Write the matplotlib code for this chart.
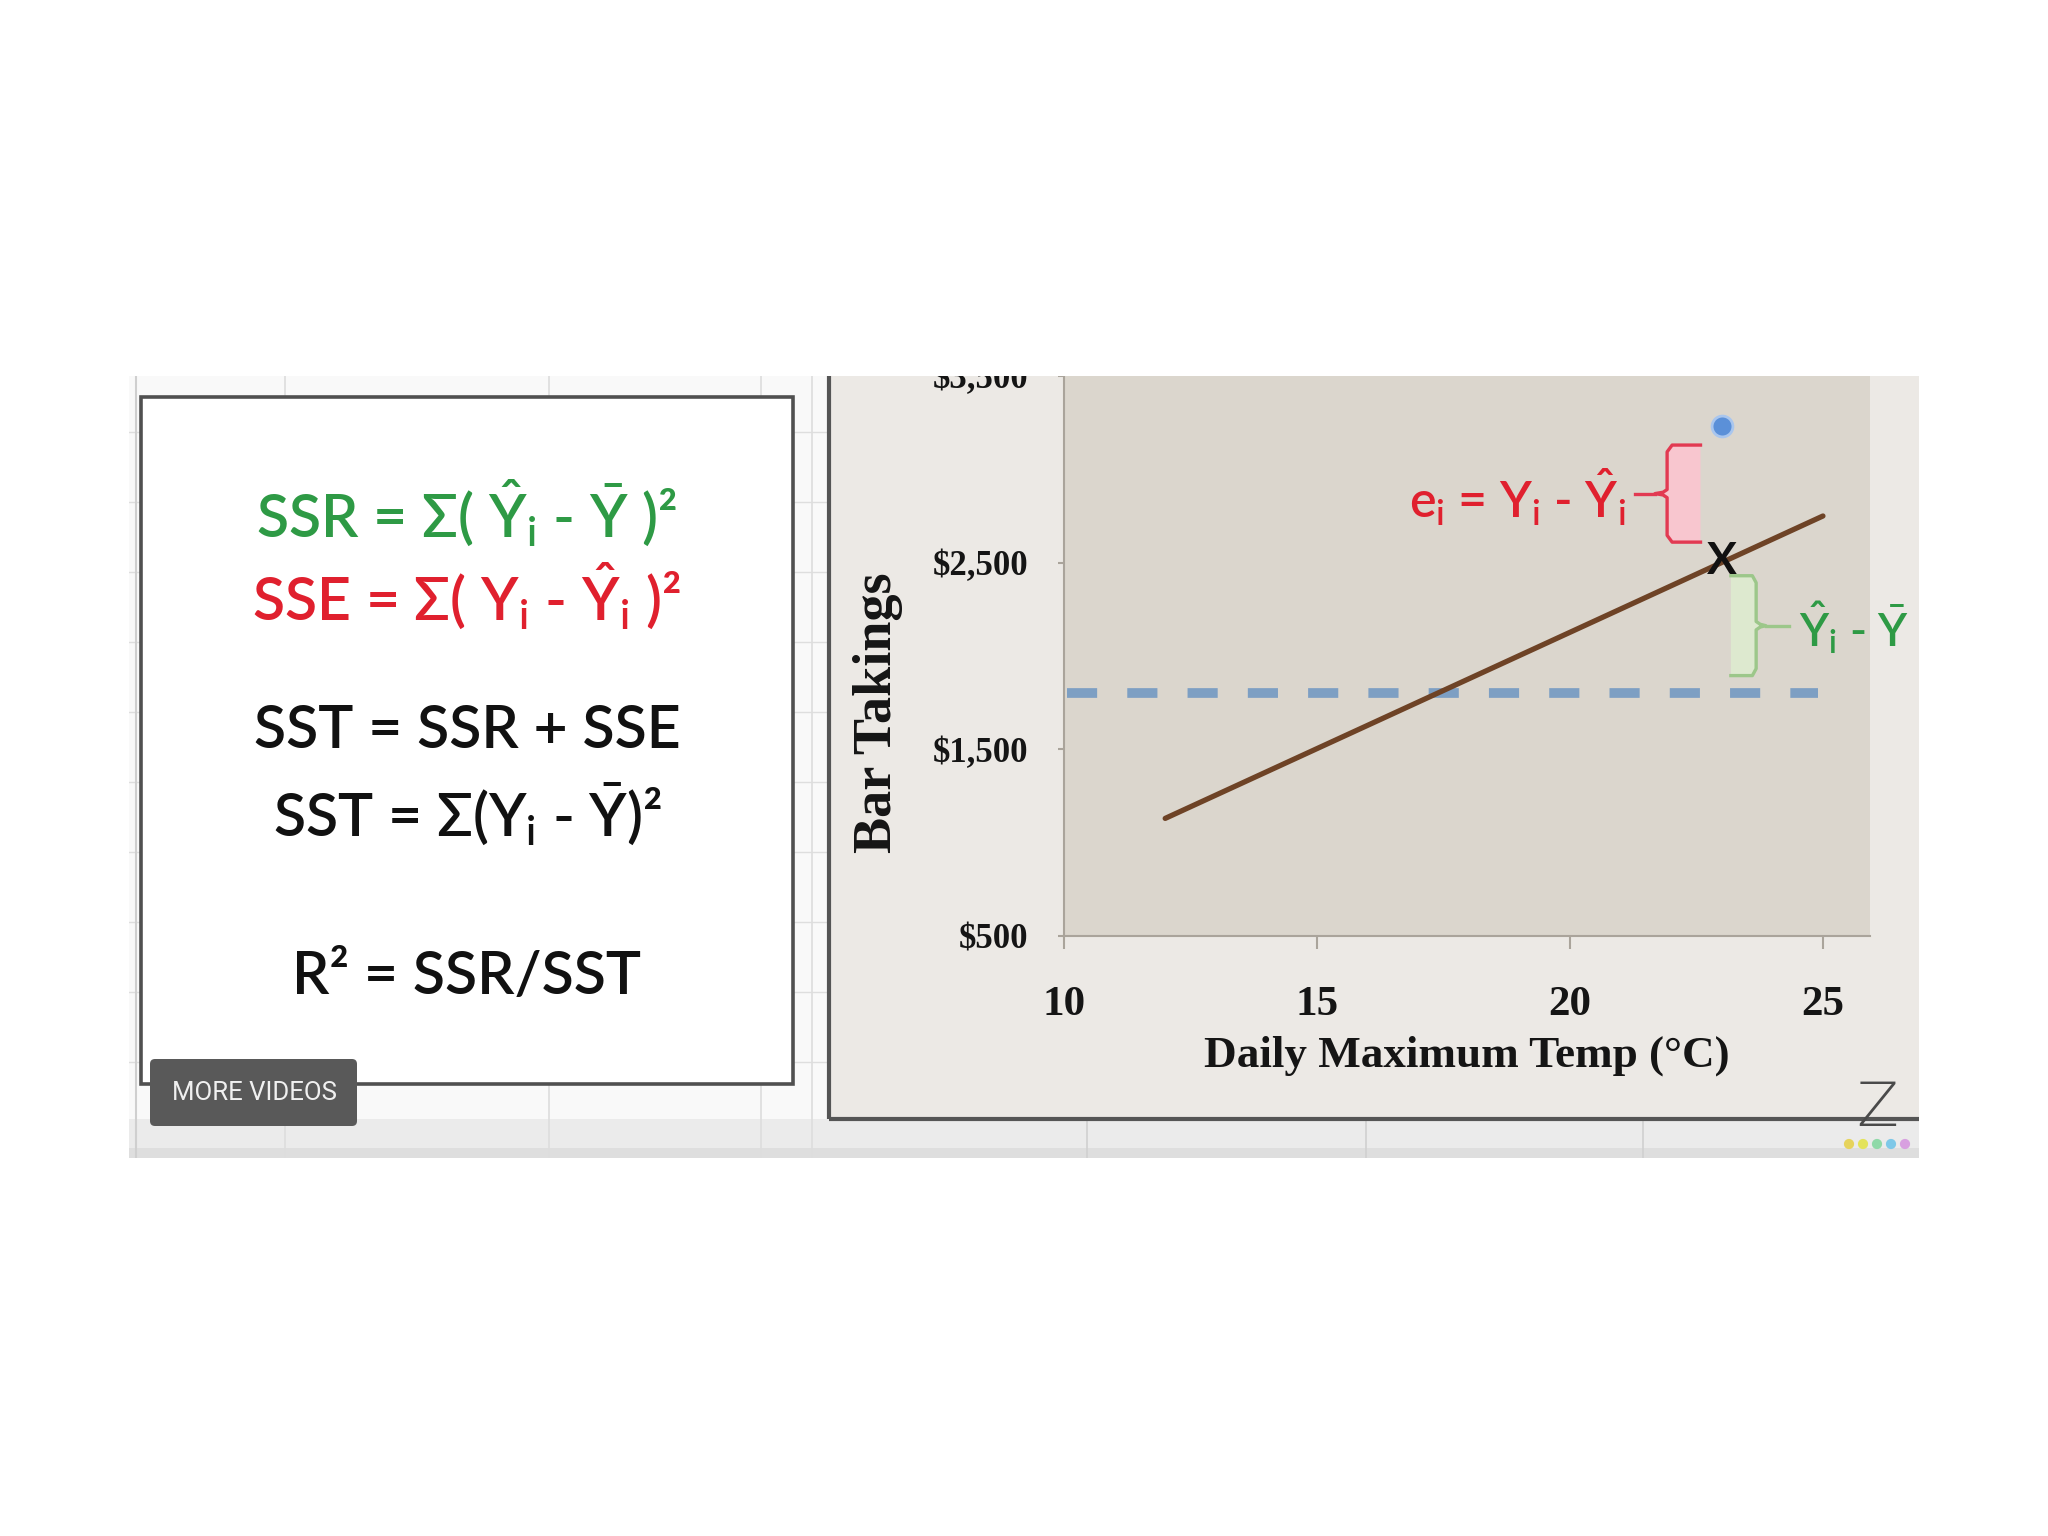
import numpy as np
import matplotlib
matplotlib.use("Agg")
import matplotlib.pyplot as plt
from matplotlib.patches import Rectangle, FancyBboxPatch

plt.rcParams['mathtext.fontset'] = 'custom'
plt.rcParams['mathtext.rm'] = 'Lato:semibold'
plt.rcParams['mathtext.it'] = 'Lato:semibold'
plt.rcParams['mathtext.bf'] = 'Lato:bold'

# data
temp_line = [12, 25]
takings_line = [1130, 2750]
mean_takings = 1800
mean_temp_range = [10.05, 24.9]
obs_temp = 23
obs_takings = 3230
fitted_takings = 2510

x_ticks = [10, 15, 20, 25]
y_ticks = [500, 1500, 2500, 3500]
y_tick_labels = ['$500', '$1,500', '$2,500', '$3,500']

formulas = [
    (r'SSR = Σ( $\hat{Y}_i$ - $\bar{Y}$ )²', '#2e9a45'),
    (r'SSE = Σ( $Y_i$ - $\hat{Y}_i$ )²', '#e0202e'),
    (r'SST = SSR + SSE', '#111111'),
    (r'SST = Σ($Y_i$ - $\bar{Y}$)²', '#111111'),
    (r'R² = SSR/SST', '#111111'),
]
formula_y = [513, 596, 731, 814, 977]

W, H = 2048, 1536
fig = plt.figure(figsize=(W / 100, H / 100), dpi=100)
fig.patch.set_facecolor('white')

# screenshot background, pixel coordinates
bg = fig.add_axes([0, 0, 1, 1])
bg.set_xlim(0, W)
bg.set_ylim(H, 0)
bg.axis('off')
bg.add_patch(Rectangle((129, 376), 1790, 782, fc='#f9f9f9', ec='none', zorder=0.1))
bg.add_patch(Rectangle((129, 1119), 1790, 39, fc='#ebebeb', ec='none', zorder=0.1))
bg.add_patch(Rectangle((129, 1148), 1790, 10, fc='#dedede', ec='none', zorder=0.1))
for yy in range(432, 1120, 70):
    bg.plot([129, 830], [yy, yy], color='#dedede', lw=1, zorder=0.2)
for xx in [285, 549, 761, 812]:
    bg.plot([xx, xx], [376, 1158], color='#dddddd', lw=1.2, zorder=0.2)
for xx in [1087, 1366, 1643]:
    bg.plot([xx, xx], [1119, 1158], color='#d0d0d0', lw=1.2, zorder=0.2)
bg.plot([136, 136], [376, 1158], color='#cfcfcf', lw=1.5, zorder=0.2)

# left formula box
bg.add_patch(Rectangle((141, 397), 652, 687, fc='white', ec='#505050', lw=2.6, zorder=1))
for (txt, col), yy in zip(formulas, formula_y):
    bg.text(467, yy, txt, ha='center', va='center', color=col, fontsize=42.5,
            fontweight='semibold', family=['Lato', 'DejaVu Sans'], zorder=2)

# right chart box
bg.add_patch(Rectangle((829, 376), 1090, 743, fc='#ece9e5', ec='none', zorder=1))
bg.plot([829, 829], [376, 1119], color='#555555', lw=3, solid_capstyle='butt', zorder=2)
bg.plot([829, 1919], [1119, 1119], color='#555555', lw=3, solid_capstyle='butt', zorder=2)

# more videos button
bg.add_patch(FancyBboxPatch((150, 1059), 207, 67, boxstyle='round,pad=0,rounding_size=5',
                            fc='#595959', ec='none', zorder=5))
bg.text(254, 1093, 'MORE VIDEOS', color='#f0f0f0', fontsize=18.5, family='Roboto',
        ha='center', va='center', zorder=6)

# logo
bg.text(1877, 1110, 'Z', color='#4a4a4a', fontsize=44, family='DejaVu Sans',
        fontweight='light', ha='center', va='center', zorder=6)
bg.scatter([1849, 1863, 1877, 1891, 1905], [1144] * 5, s=40,
           c=['#e6d35c', '#e3e35a', '#8fd9a8', '#7ec8e8', '#d8a0e0'], zorder=6)

# chart axes
ax = fig.add_axes([1064 / W, 1 - 936 / H, 806 / W, 560 / H])
ax.set_facecolor('#dbd6cd')
ax.set_xlim(10, 25.93)
ax.set_ylim(500, 3500)

ax.plot(temp_line, takings_line, color='#6e4326', lw=3.8, solid_capstyle='round', zorder=3)
dash, = ax.plot(mean_temp_range, [mean_takings] * 2, color='#7d9fc3', lw=7,
                solid_capstyle='butt', zorder=2)
dash.set_dashes((3.1, 3.1))
dash.set_dash_capstyle('butt')

ax.plot([obs_temp], [obs_takings], 'o', ms=15, color='#5b90d8', mec='#a9c6ee', mew=2, zorder=5)
ax.text(obs_temp, fitted_takings, 'X', fontsize=32, fontweight='bold', family='Lato',
        color='#111111', ha='center', va='center', zorder=5)


def brace(x_open, x_stem, x_tip, y0, y1, edge, fill):
    ym = (y0 + y1) / 2
    c = (y1 - y0) * 0.07
    s = np.sign(x_tip - x_stem)
    k = (x_stem - x_open) * 0.15
    xs = [x_open, x_stem - k, x_stem, x_stem, x_stem + s * 0.08, x_tip,
          x_stem + s * 0.08, x_stem, x_stem, x_stem - k, x_open]
    ys = [y1, y1, y1 - c, ym + c * 0.6, ym + c * 0.2, ym,
          ym - c * 0.2, ym - c * 0.6, y0 + c, y0, y0]
    ax.fill(xs, ys, color=fill, zorder=3, lw=0)
    ax.plot(xs, ys, color=edge, lw=2.4, zorder=4)
    return ym


inset = 100
ym_red = brace(obs_temp - 0.42, obs_temp - 1.08, obs_temp - 1.32,
               fitted_takings + inset, obs_takings - inset, '#e23a52', '#f8c6cf')
ax.plot([obs_temp - 1.72, obs_temp - 1.32], [ym_red, ym_red], color='#e23a52', lw=2.4, zorder=4)
ax.text(obs_temp - 1.9, ym_red - 20, r'$e_i$ = $Y_i$ - $\hat{Y}_i$', color='#e0202e',
        fontsize=36, fontweight='semibold', family='Lato', ha='right', va='center', zorder=4)

ym_green = brace(obs_temp + 0.18, obs_temp + 0.68, obs_temp + 0.87,
                 mean_takings + 95, fitted_takings - 80, '#9cc78a', '#dde9cf')
ax.plot([obs_temp + 0.87, obs_temp + 1.33], [ym_green, ym_green], color='#9cc78a', lw=2.4, zorder=4)
ax.text(obs_temp + 1.52, ym_green - 10, r'$\hat{Y}_i$ - $\bar{Y}$', color='#2e9a45',
        fontsize=33, fontweight='semibold', family='Lato', ha='left', va='center',
        zorder=4, clip_on=False)

for side in ['top', 'right']:
    ax.spines[side].set_visible(False)
for side in ['left', 'bottom']:
    ax.spines[side].set_color('#aaa49b')
    ax.spines[side].set_linewidth(1.5)

ax.set_xticks(x_ticks)
ax.set_yticks(y_ticks)
ax.set_yticklabels(y_tick_labels)
ax.tick_params(axis='x', length=9, width=1.5, color='#aaa49b', pad=27, labelsize=31)
ax.tick_params(axis='y', length=4, width=1.5, color='#aaa49b', pad=22, labelsize=25)
for lab in ax.get_xticklabels() + ax.get_yticklabels():
    lab.set_family('Liberation Serif')
    lab.set_fontweight('bold')
    lab.set_color('#151515')

ax.set_xlabel('Daily Maximum Temp (°C)', family='Liberation Serif', fontweight='bold',
              fontsize=32.5, color='#151515', va='center')
ax.xaxis.set_label_coords(0.5, -0.213)
ax.set_ylabel('Bar Takings', family='Liberation Serif', fontweight='bold',
              fontsize=39, color='#151515', va='center')
ax.yaxis.set_label_coords(-0.231, 0.398)

# cover what falls outside the screenshot
ov = fig.add_axes([0, 0, 1, 1], zorder=10)
ov.set_xlim(0, W)
ov.set_ylim(H, 0)
ov.axis('off')
ov.patch.set_visible(False)
for r in [(0, 0, W, 376), (1919, 0, W - 1919, H), (0, 1158, W, H - 1158), (0, 0, 129, H)]:
    ov.add_patch(Rectangle(r[:2], r[2], r[3], fc='white', ec='none'))

fig.savefig('out.png', dpi=100)
